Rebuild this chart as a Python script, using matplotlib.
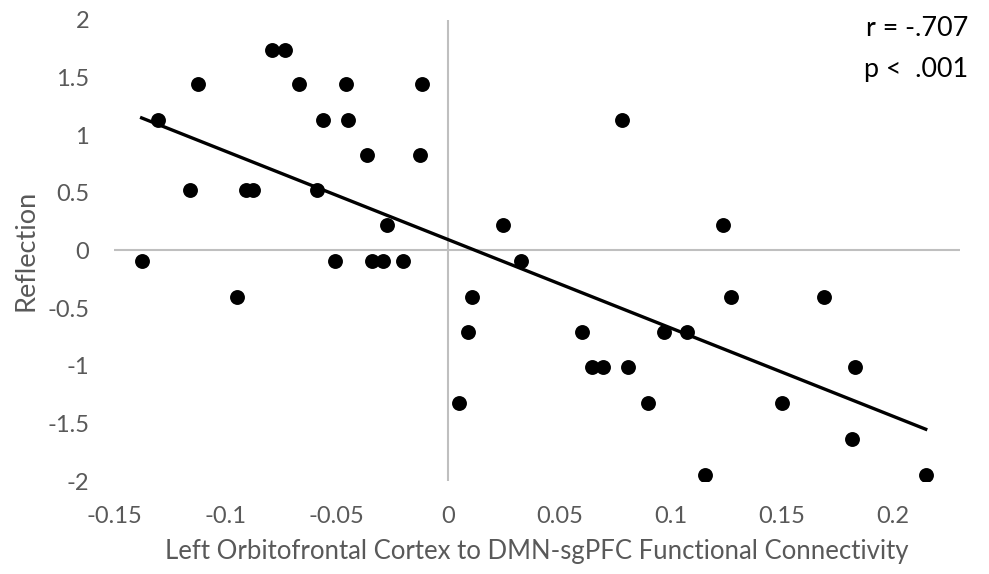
import numpy as np
import matplotlib
matplotlib.use('Agg')
import matplotlib.pyplot as plt

plt.rcParams['font.family'] = ['Lato', 'DejaVu Sans']
plt.rcParams['axes.unicode_minus'] = False

# Left OFC to DMN-sgPFC connectivity (x) and Reflection score (y)
connectivity = [
    -0.1376, -0.1304, -0.1125, -0.1159, -0.0792, -0.0732, -0.0671, -0.0909,
    -0.0874, -0.0946, -0.0563, -0.0460, -0.0448, -0.0587, -0.0508, -0.0365,
    -0.0343, -0.0291, -0.0273, -0.0201, -0.0126, -0.0117,
    0.0249, 0.0327, 0.0108, 0.0088, 0.0049, 0.0782, 0.0600, 0.0645,
    0.0695, 0.0809, 0.0900, 0.0970, 0.1072, 0.1155, 0.1237, 0.1270,
    0.1499, 0.1691, 0.1828, 0.1813, 0.2146,
]
reflection = [
    -0.09, 1.13, 1.44, 0.52, 1.74, 1.74, 1.44, 0.52,
    0.52, -0.40, 1.13, 1.44, 1.13, 0.52, -0.09, 0.83,
    -0.09, -0.09, 0.22, -0.09, 0.83, 1.44,
    0.22, -0.09, -0.40, -0.71, -1.32, 1.13, -0.71, -1.01,
    -1.01, -1.01, -1.32, -0.71, -0.71, -1.94, 0.22, -0.40,
    -1.32, -0.40, -1.01, -1.63, -1.94,
]
x_ticks = [-0.15, -0.1, -0.05, 0, 0.05, 0.1, 0.15, 0.2]
x_labels = ['-0.15', '-0.1', '-0.05', '0', '0.05', '0.1', '0.15', '0.2']
y_ticks = [-2, -1.5, -1, -0.5, 0, 0.5, 1, 1.5, 2]
y_labels = ['-2', '-1.5', '-1', '-0.5', '0', '0.5', '1', '1.5', '2']
stats_lines = ['r = -.707', 'p <  .001']

x = np.array(connectivity)
y = np.array(reflection)

fig = plt.figure(figsize=(9.89, 5.74), dpi=100)
ax = fig.add_axes([0.1153, 0.1612, 0.9707 - 0.1153, 0.966 - 0.1612])

ax.axhline(0, color='#bfbfbf', linewidth=1.5, zorder=1)
ax.axvline(0, color='#bfbfbf', linewidth=1.5, zorder=1)

ax.scatter(x, y, s=115, color='black', zorder=3, linewidths=0)

# linear trendline over the data range
slope, intercept = np.polyfit(x, y, 1)
xs = np.array([x.min(), x.max()])
ax.plot(xs, slope * xs + intercept, color='black', linewidth=2.4, zorder=4)

ax.set_xlim(-0.15, 0.23)
ax.set_ylim(-2, 2)
ax.set_xticks(x_ticks)
ax.set_xticklabels(x_labels)
ax.set_yticks(y_ticks)
ax.set_yticklabels(y_labels)
ax.tick_params(axis='both', length=0, labelsize=17, labelcolor='#595959')
ax.tick_params(axis='x', pad=18)
ax.tick_params(axis='y', pad=18)
for s in ax.spines.values():
    s.set_visible(False)

ax.set_xlabel('Left Orbitofrontal Cortex to DMN-sgPFC Functional Connectivity',
              fontsize=18.5, color='#595959', labelpad=8)
ax.set_ylabel('Reflection', fontsize=19.5, color='#595959', labelpad=6)

for i, line in enumerate(stats_lines):
    fig.text(0.9788, 1 - (28 + 42 * i) / 574, line, ha='right', va='center',
             fontsize=19.4, color='black')

fig.savefig('out.png', dpi=100)
